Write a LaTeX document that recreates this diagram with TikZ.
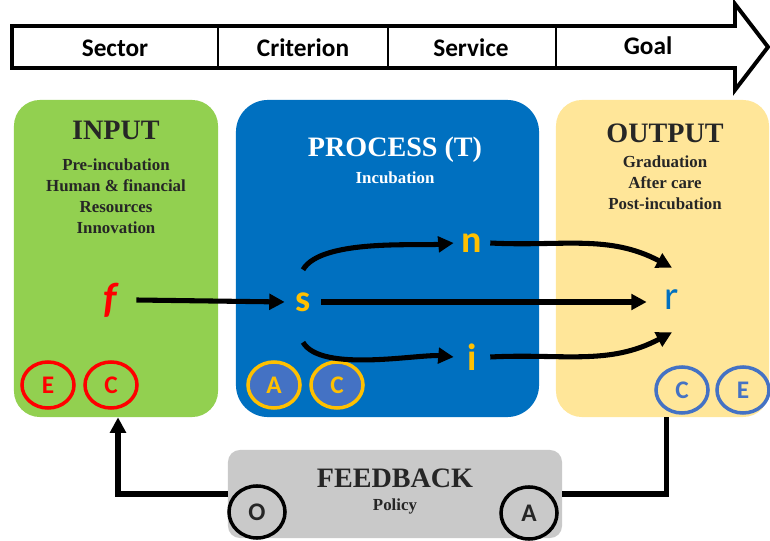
\documentclass[tikz,border=0pt]{standalone}
\usepackage{fontspec}
\setmainfont{Liberation Serif}
\setsansfont{Carlito}
\usetikzlibrary{positioning, arrows.meta, shapes.geometric}
\definecolor{inputgreen}{HTML}{92D050}
\definecolor{processblue}{HTML}{0070C0}
\definecolor{outputyellow}{HTML}{FFE699}
\definecolor{feedgray}{HTML}{C9C9C9}
\definecolor{tagred}{HTML}{FF0000}
\definecolor{tagyellow}{HTML}{FFC000}
\definecolor{tagblue}{HTML}{4472C4}
\definecolor{titlegray}{HTML}{262626}

\begin{document}
\begin{tikzpicture}[
    x=0.025cm, y=0.025cm,
    >={Triangle[length=11pt,width=11pt]},
    % Coloured panels
    panel/.style={
        rectangle, rounded corners=0.65cm, inner sep=0pt, draw=none
    },
    % Panel titles and sub-titles
    title/.style={font=\fontsize{20}{24}\selectfont\bfseries, text=titlegray},
    sub/.style={
        font=\fontsize{12}{15}\selectfont\bfseries, text=titlegray,
        align=center
    },
    % Labels of the top arrow
    header/.style={font=\sffamily\bfseries\fontsize{18}{21}\selectfont},
    % Variables inside the panels
    var/.style={
        rectangle, inner sep=0pt,
        minimum width=0.9cm, minimum height=1.6cm,
        font=\sffamily\bfseries\fontsize{27}{31}\selectfont,
        text=tagyellow
    },
    % Small ringed tags
    tag/.style={
        ellipse, inner sep=0pt, line width=2.5pt,
        minimum width=1.3cm, minimum height=1.15cm,
        font=\sffamily\bfseries\fontsize{18}{20}\selectfont
    },
    % Arrow style
    flow/.style={->, line width=3.6pt, draw=black}
]

\useasboundingbox (0,0) rectangle (770,540);

% Top arrow
\draw[line width=2.8pt, line join=miter, fill=white]
    (12,472) -- (12,514) -- (735,514) -- (735,536) -- (768,493)
    -- (735,450) -- (735,472) -- cycle;
\foreach \xdiv in {218, 388, 556}
    \draw[line width=1pt] (\xdiv,472) -- (\xdiv,514);
\node[header] (sector) at (115,492) {Sector};
\node[header] (criterion) at (303,492) {Criterion};
\node[header] (service) at (471,492) {Service};
\node[header] (goal) at (648,494) {Goal};

% Panels
\node[panel, fill=inputgreen, minimum width=5.1cm, minimum height=7.925cm]
    (input) at (116,281.5) {};
\node[panel, fill=processblue, rounded corners=0.8cm,
      minimum width=7.575cm, minimum height=7.925cm]
    (process) at (387.5,281.5) {};
\node[panel, fill=outputyellow, minimum width=5.325cm, minimum height=7.925cm]
    (output) at (662.5,281.5) {};
\node[panel, fill=feedgray, rounded corners=0.3cm,
      minimum width=8.35cm, minimum height=2.2cm]
    (feedback) at (395,46) {};

% Panel texts
\node[title] (inputtitle) at (116,410) {INPUT};
\node[sub] (inputsub) at (116,343.5)
    {Pre-incubation\\Human \& financial\\Resources\\Innovation};
\node[title, text=white] (processtitle) at (395,390) {PROCESS (T)};
\node[sub, text=white] (processsub) at (395,362) {Incubation};
\node[title] (outputtitle) at (665,407) {OUTPUT};
\node[sub] (outputsub) at (665,357)
    {Graduation\\After care\\Post-incubation};
\node[title] (feedtitle) at (395,62) {FEEDBACK};
\node[sub] (feedsub) at (395,34) {Policy};

% Variables
\node[var, minimum width=1.3cm, text=tagred,
      font=\sffamily\bfseries\itshape\fontsize{30}{34}\selectfont]
    (f) at (110,240) {f};
\node[var] (s) at (303,238) {s};
\node[var] (n) at (472,297) {n};
\node[var] (i) at (472,183) {i};
\node[var, minimum width=1.25cm, text=processblue,
      font=\sffamily\fontsize{29}{33}\selectfont]
    (r) at (672,240) {r};

% Tags
\node[tag, draw=tagred, text=tagred] (inE) at (48,155) {E};
\node[tag, draw=tagred, text=tagred] (inC) at (111,155) {C};
\node[tag, draw=tagyellow, fill=tagblue, text=tagyellow] (prA) at (274,155) {A};
\node[tag, draw=tagyellow, fill=tagblue, text=tagyellow] (prC) at (337,155) {C};
\node[tag, draw=tagblue, text=tagblue] (outC) at (682,150) {C};
\node[tag, draw=tagblue, text=tagblue] (outE) at (743,150) {E};
\node[tag, draw=black, text=titlegray, minimum width=1.4cm, minimum height=1.3cm]
    (fbO) at (257,28) {O};
\node[tag, draw=black, text=titlegray, minimum width=1.4cm, minimum height=1.3cm]
    (fbA) at (529,27) {A};

% Flows through the process
\draw[flow] (f.east) -- (s.west);
\draw[flow] (s.east) -- (s.east -| r.west);
\draw[flow] (s.north) to[out=60, in=185, looseness=0.6] (n.west);
\draw[flow] ([yshift=-0.2cm]s.south) to[out=-60, in=175, looseness=0.6] (i.west);
\draw[flow] (n.east) to[out=-3, in=152] (r.north);
\draw[flow] (i.east) to[out=3, in=208] (r.south);

% Feedback loop
\draw[line width=3.6pt] ([xshift=0.1cm]output.south) |- (feedback.east);
\draw[flow] (feedback.west) -| ([xshift=0.05cm]input.south);

\end{tikzpicture}
\end{document}
